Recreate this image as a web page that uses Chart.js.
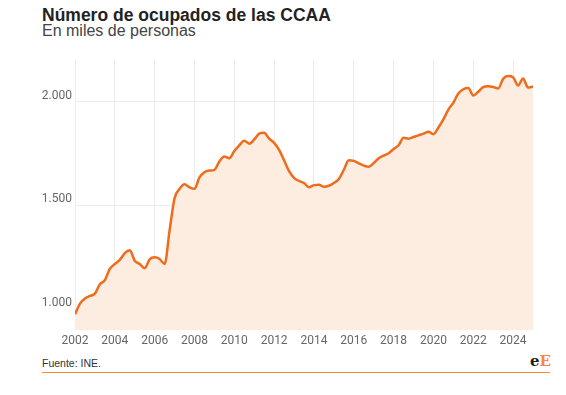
<!DOCTYPE html>
<html lang="es">
<head>
<meta charset="utf-8">
<title>Número de ocupados de las CCAA</title>
<script src="https://cdn.jsdelivr.net/npm/chart.js@4.4.1/dist/chart.umd.min.js"></script>
<style>
  body { margin: 0; background: #fff; font-family: "Liberation Sans", Arial, sans-serif; }
  .wrap { position: relative; width: 566px; height: 395px; }
  .title { position: absolute; left: 42px; top: 5px; font-size: 17.5px; line-height: 20px; font-weight: 700; color: #222; white-space: nowrap; }
  .subtitle { position: absolute; left: 42px; top: 22px; font-size: 16px; line-height: 18px; color: #444; white-space: nowrap; }
  .chart-box { position: absolute; left: 40px; top: 50px; width: 498px; height: 300px; }
  .source { position: absolute; left: 42px; top: 357px; font-size: 10.5px; color: #333; }
  .rule { position: absolute; left: 42px; top: 372px; width: 508px; height: 1px; background: #f08a3c; }
  .logo { position: absolute; left: 530px; top: 352px; font-family: "DejaVu Serif", serif; font-weight: 700; font-size: 15px; color: #222; }
  .logo span { color: #f5894a; }
</style>
</head>
<body>
<div class="wrap">
  <div class="title">Número de ocupados de las CCAA</div>
  <div class="subtitle">En miles de personas</div>
  <div class="chart-box"><canvas id="ocupadosChart" width="498" height="300"></canvas></div>
  <div class="source">Fuente: INE.</div>
  <div class="rule"></div>
  <div class="logo">e<span>E</span></div>
</div>
<script>
// Data: quarterly values, first quarter of 2002 onwards (miles de personas)
const startYear = 2002;
const ocupados = [
    976, 1027, 1052, 1064,   // 2002
    1075, 1120, 1140, 1195,  // 2003
    1218, 1238, 1270, 1284,  // 2004
    1234, 1218, 1198, 1240,  // 2005
    1250, 1242, 1218, 1380,  // 2006
    1535, 1580, 1602, 1588,  // 2007
    1580, 1635, 1660, 1668,  // 2008
    1672, 1712, 1736, 1728,  // 2009
    1762, 1790, 1812, 1798,  // 2010
    1818, 1846, 1850, 1822,  // 2011
    1802, 1768, 1718, 1665,  // 2012
    1633, 1618, 1608, 1588,  // 2013
    1598, 1600, 1590, 1595,  // 2014
    1608, 1628, 1672, 1718,  // 2015
    1715, 1703, 1692, 1686,  // 2016
    1704, 1728, 1740, 1752,  // 2017
    1772, 1790, 1826, 1822,  // 2018
    1830, 1838, 1846, 1855,  // 2019
    1843, 1876, 1915, 1962,  // 2020
    1995, 2040, 2060, 2066,  // 2021
    2030, 2048, 2070, 2074,  // 2022
    2071, 2064, 2110, 2124,  // 2023
    2118, 2078, 2112, 2068,  // 2024
    2073                     // 2025
];
const yearTicks = [2002, 2004, 2006, 2008, 2010, 2012, 2014, 2016, 2018, 2020, 2022, 2024];
const valueTicks = [1000, 1500, 2000];

const points = ocupados.map((v, i) => ({ x: startYear + i / 4, y: v }));

function formatMiles(value) {
    return String(value).replace(/\B(?=(\d{3})+(?!\d))/g, '.');
}

document.addEventListener('DOMContentLoaded', function() {
    const ctx = document.getElementById('ocupadosChart').getContext('2d');

    new Chart(ctx, {
        type: 'line',
        data: {
            datasets: [{
                label: 'Ocupados',
                data: points,
                borderColor: '#ee6c1c',
                backgroundColor: '#fdece0',
                borderWidth: 2.5,
                fill: 'start',
                cubicInterpolationMode: 'monotone',
                pointRadius: 0,
                pointHoverRadius: 0
            }]
        },
        options: {
            responsive: false,
            animation: false,
            layout: {
                padding: { top: 8, right: 5, left: 0, bottom: 0 }
            },
            plugins: {
                legend: { display: false },
                tooltip: { enabled: false }
            },
            scales: {
                x: {
                    type: 'linear',
                    min: startYear,
                    max: startYear + (ocupados.length - 1) / 4,
                    afterBuildTicks: scale => {
                        scale.ticks = yearTicks.map(v => ({ value: v }));
                    },
                    afterFit: scale => {
                        scale.height = 20;
                    },
                    grid: {
                        color: '#ececec',
                        drawTicks: false
                    },
                    border: { display: false },
                    ticks: {
                        color: '#666',
                        padding: 4,
                        maxRotation: 0,
                        font: { family: 'Roboto', size: 12 },
                        callback: value => String(value)
                    }
                },
                y: {
                    min: 900,
                    max: 2200,
                    afterBuildTicks: scale => {
                        scale.ticks = valueTicks.map(v => ({ value: v }));
                    },
                    afterFit: scale => {
                        scale.width = 35;
                    },
                    grid: {
                        color: '#ececec',
                        drawTicks: false
                    },
                    border: { display: false },
                    ticks: {
                        color: '#666',
                        padding: 3,
                        labelOffset: -6,
                        font: { family: 'Roboto', size: 12 },
                        callback: value => formatMiles(value)
                    }
                }
            }
        }
    });
});
</script>
</body>
</html>
